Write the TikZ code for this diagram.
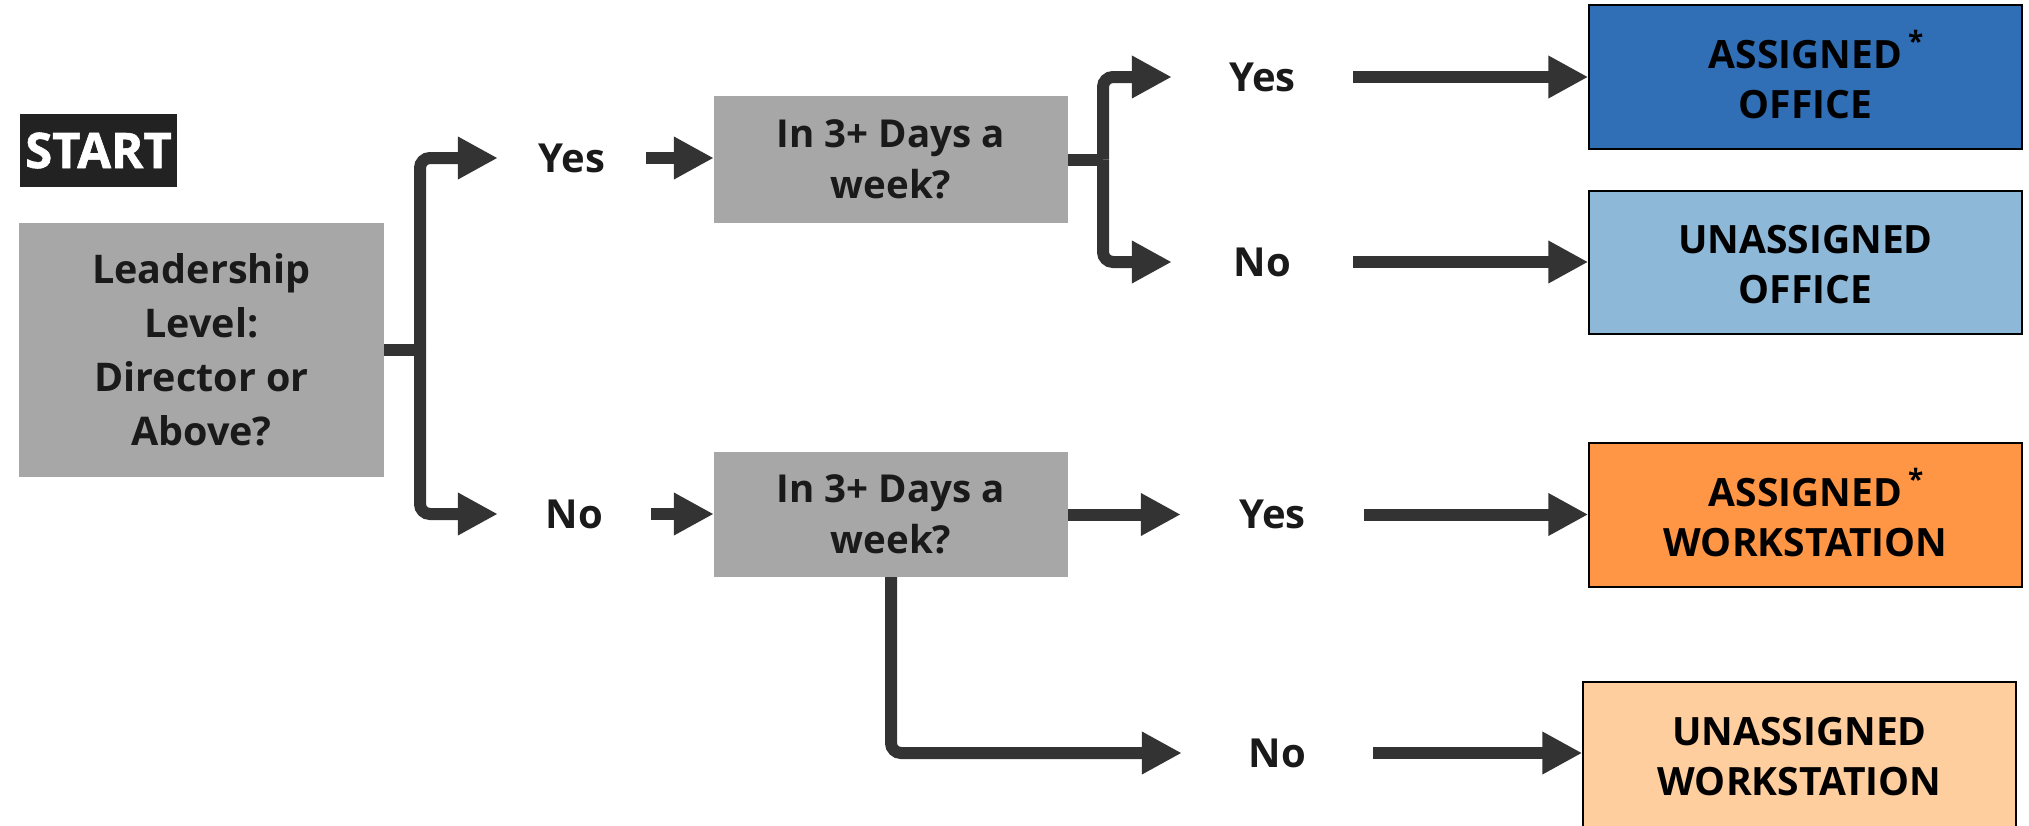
\documentclass[tikz,border=0pt]{standalone}
\usepackage{fontspec}
\setmainfont{Open Sans}
\newfontfamily\startfont[FakeBold=1.2]{Open Sans Bold}
\usetikzlibrary{arrows.meta}
\definecolor{ln}{HTML}{333333}
\definecolor{txt}{HTML}{1A1A1A}
\definecolor{qgray}{HTML}{A7A7A7}
\definecolor{startbg}{HTML}{222222}
\definecolor{cblue}{HTML}{306EB6}
\definecolor{clblue}{HTML}{8EB8D8}
\definecolor{corange}{HTML}{FF9645}
\definecolor{cpeach}{HTML}{FFCE9F}
\newcommand{\myast}{\rlap{\hspace{6pt}\smash{\raisebox{17pt}{\fontsize{28}{28}\selectfont *}}}}
\begin{document}
\begin{tikzpicture}[x=1pt,y=-1pt,
  conn/.style={draw=ln, line width=12pt},
  arr/.style={conn, -{Triangle[length=40pt,width=40pt]}},
  qbox/.style={fill=qgray, text=txt, align=center, inner sep=0pt,
    font=\bfseries\fontsize{38.5}{51}\selectfont},
  resbox/.style={draw=black, line width=1.5pt, inner sep=0pt, minimum width=433pt},
  restext/.style={text=black, align=center, inner sep=0pt,
    font=\bfseries\fontsize{39}{50}\selectfont},
  lbl/.style={text=txt, inner sep=0pt, text height=28pt, text depth=0pt,
    font=\bfseries\fontsize{40}{40}\selectfont},
  startbox/.style={fill=startbg, text=white, inner sep=0pt,
    font=\startfont\fontsize{49}{49}\selectfont}
]
\useasboundingbox (0,0) rectangle (2029,825);
\fill[white] (0,0) rectangle (2029,825);

% start
\node[startbox, minimum width=157pt, minimum height=73pt] (start) at (98.5,150.5) {START};

% question boxes
\node[qbox, minimum width=365pt, minimum height=254pt, font=\bfseries\fontsize{39.5}{54}\selectfont]
  (lead) at (201.5,350) {Leadership\\Level:\\Director or\\Above?};
\node[qbox, minimum width=354pt, minimum height=127pt] (q1) at (891,159.5) {In 3+ Days a\\week?};
\node[qbox, minimum width=354pt, minimum height=125pt] (q2) at (891,514.5) {In 3+ Days a\\week?};

% result boxes
\node[resbox, fill=cblue, minimum height=144pt] (r1) at (1805.5,77) {};
\node[resbox, fill=clblue, minimum height=143pt] (r2) at (1805.5,262.5) {};
\node[resbox, fill=corange, minimum height=144pt] (r3) at (1805.5,515) {};
\node[resbox, fill=cpeach, minimum height=148pt] (r4) at (1799.5,756) {};
\node[restext] (r1t) at ([yshift=-3pt]r1.center) {ASSIGNED\myast\\OFFICE};
\node[restext] (r2t) at ([yshift=-2.5pt]r2.center) {UNASSIGNED\\OFFICE};
\node[restext] (r3t) at ([yshift=-3pt]r3.center) {ASSIGNED\myast\\WORKSTATION};
\node[restext] (r4t) at ([yshift=-1pt]r4.center) {UNASSIGNED\\WORKSTATION};

% labels
\node[lbl, minimum width=148pt] (yes1) at (572,158) {Yes};
\node[lbl, minimum width=153pt] (no1) at (574.5,514) {No};
\node[lbl, minimum width=181pt] (yes2) at (1262.5,77) {Yes};
\node[lbl, minimum width=181pt] (no2) at (1262.5,262) {No};
\node[lbl, minimum width=183pt] (yes3) at (1272.5,514.5) {Yes};
\node[lbl, minimum width=191pt] (no3) at (1277.5,753) {No};

% junctions
\coordinate (j1) at (420,350);
\coordinate (j2) at (1103,159.5);

% connectors
\draw[arr, rounded corners=10pt] (j1) |- (yes1.west);
\draw[arr, rounded corners=10pt] (j1) |- (no1.west);
\draw[conn] (lead.east) -- (j1);
\draw[arr] (yes1.east) -- (yes1.east -| q1.west);
\draw[arr] (no1.east) -- (no1.east -| q2.west);

\draw[arr, rounded corners=10pt] (j2) |- (yes2.west);
\draw[arr, rounded corners=10pt] (j2) |- (no2.west);
\draw[conn] (q1.east) -- (j2);
\draw[arr] (yes2.east) -- (yes2.east -| r1.west);
\draw[arr] (no2.east) -- (no2.east -| r2.west);

\draw[arr] (q2.east) -- (yes3.west);
\draw[arr] (yes3.east) -- (yes3.east -| r3.west);
\draw[arr, rounded corners=10pt] (q2.south) |- (no3.west);
\draw[arr] (no3.east) -- (no3.east -| r4.west);
\end{tikzpicture}
\end{document}
